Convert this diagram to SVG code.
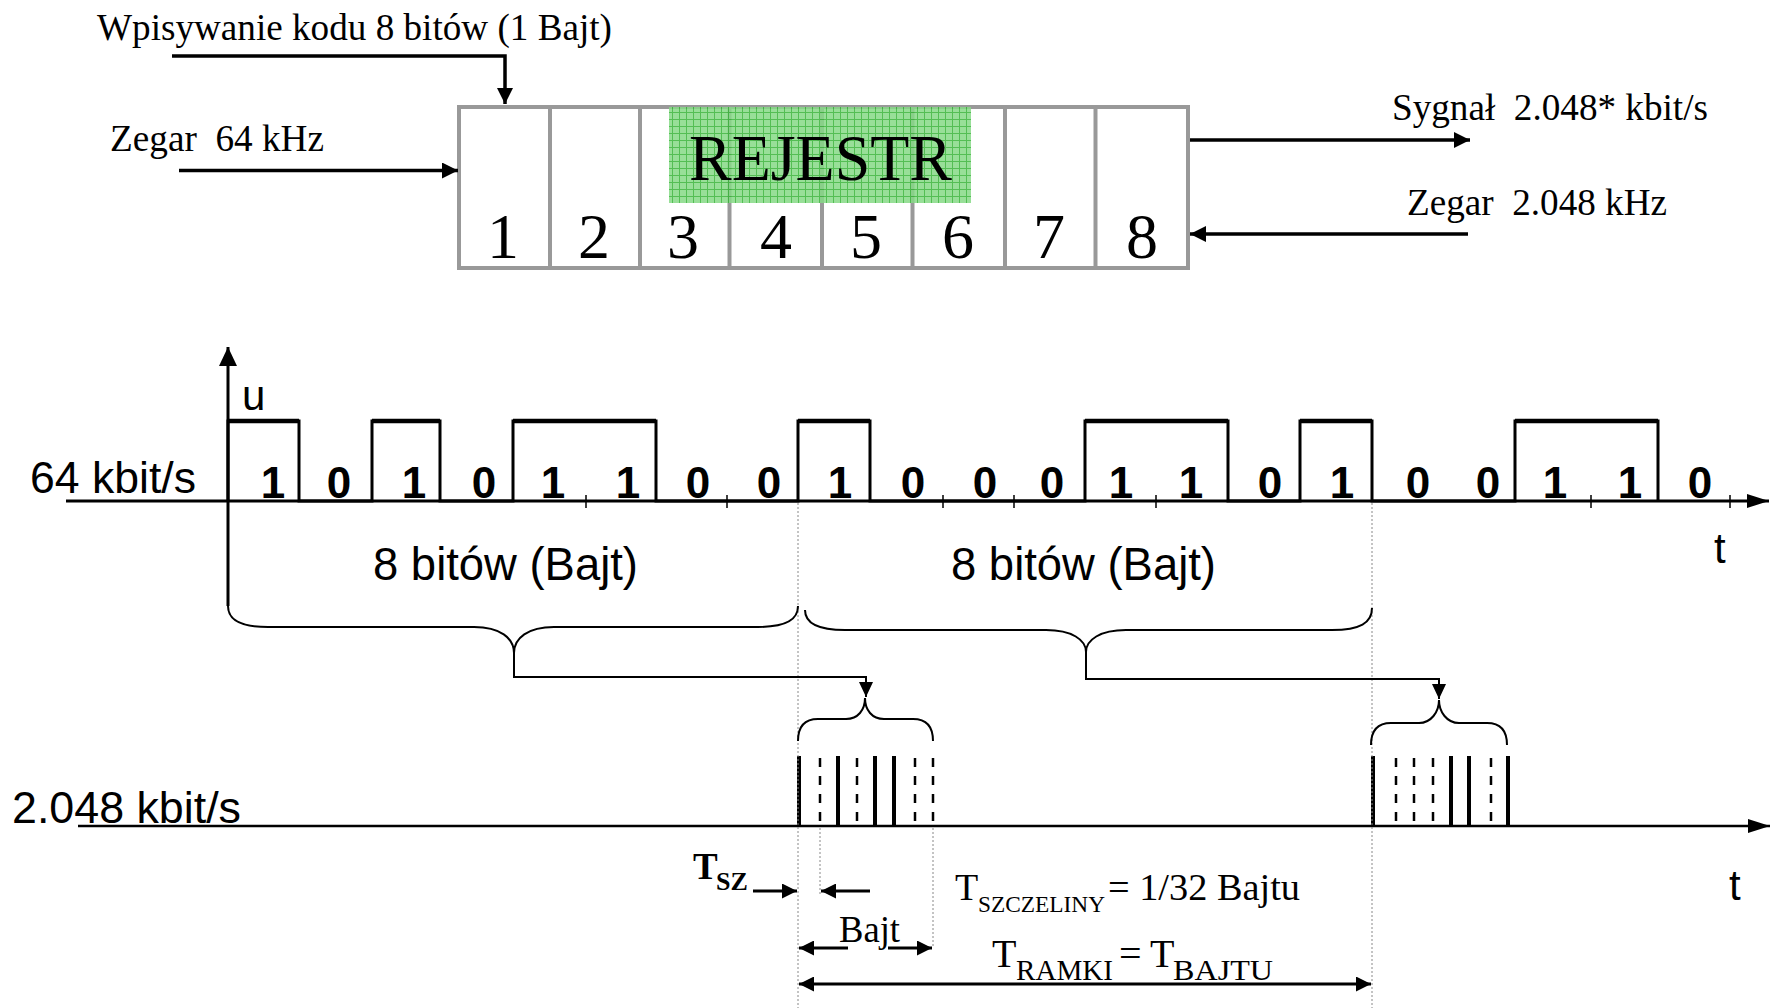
<svg xmlns="http://www.w3.org/2000/svg" width="1771" height="1008" viewBox="0 0 1771 1008">
<defs>
<style>
.serif{font-family:"Liberation Serif","Times New Roman",serif;fill:#000}
.sans{font-family:"Liberation Sans",Arial,sans-serif;fill:#000}
.pre{white-space:pre}
.bit{font-family:"Liberation Sans",Arial,sans-serif;font-weight:bold;font-size:44px;text-anchor:middle;fill:#000}
.ln{stroke:#000;fill:none}
.thin{stroke:#000;stroke-width:2;fill:none}
.dot{stroke:#888;stroke-width:1;stroke-dasharray:2 2;fill:none}
.solid{stroke:#000;stroke-width:4}
.dash{stroke:#000;stroke-width:2.5;stroke-dasharray:9 9}
.cell{stroke:#999;stroke-width:4}
</style>
<pattern id="grid" width="7" height="7" patternUnits="userSpaceOnUse">
<rect width="7" height="7" fill="#86d986"/>
<path d="M0,0.5H7M0.5,0V7" stroke="#36b336" stroke-width="1"/>
</pattern>
<marker id="ah" markerUnits="userSpaceOnUse" markerWidth="16" markerHeight="16" refX="16" refY="8" orient="auto"><path d="M0,0L16,8L0,16z" fill="#000"/></marker>
<marker id="ahs" markerUnits="userSpaceOnUse" markerWidth="15" markerHeight="14" refX="15" refY="7" orient="auto"><path d="M0,0L15,7L0,14z" fill="#000"/></marker>
<marker id="ahl" markerUnits="userSpaceOnUse" markerWidth="22" markerHeight="14" refX="22" refY="7" orient="auto"><path d="M0,0L22,7L0,14z" fill="#000"/></marker>
<marker id="ahu" markerUnits="userSpaceOnUse" markerWidth="19" markerHeight="18" refX="19" refY="9" orient="auto"><path d="M0,0L19,9L0,18z" fill="#000"/></marker>
<marker id="ahb" markerUnits="userSpaceOnUse" markerWidth="15" markerHeight="15" refX="15" refY="7.5" orient="auto-start-reverse"><path d="M0,0L15,7.5L0,15z" fill="#000"/></marker>
</defs>
<rect width="1771" height="1008" fill="#fff"/>

<g id="register">
<rect x="459" y="107" width="729" height="161" fill="#fff" stroke="#999" stroke-width="4"/>
<line class="cell" x1="550" y1="107" x2="550" y2="268"/>
<line class="cell" x1="640" y1="107" x2="640" y2="268"/>
<line class="cell" x1="729.5" y1="107" x2="729.5" y2="268"/>
<line class="cell" x1="822" y1="107" x2="822" y2="268"/>
<line class="cell" x1="912.5" y1="107" x2="912.5" y2="268"/>
<line class="cell" x1="1005" y1="107" x2="1005" y2="268"/>
<line class="cell" x1="1095.5" y1="107" x2="1095.5" y2="268"/>
<rect x="669" y="107" width="302" height="96" fill="url(#grid)" opacity="0.85"/>
<text class="serif" x="689" y="180" font-size="66" textLength="263" lengthAdjust="spacingAndGlyphs">REJESTR</text>
<g class="serif" font-size="64" text-anchor="middle">
<text x="503" y="258">1</text>
<text x="594" y="258">2</text>
<text x="683" y="258">3</text>
<text x="776" y="258">4</text>
<text x="866" y="258">5</text>
<text x="958" y="258">6</text>
<text x="1049" y="258">7</text>
<text x="1142" y="258">8</text>
</g>
</g>

<g id="top-labels" class="serif" font-size="38">
<text class="pre" x="97" y="40" textLength="515" lengthAdjust="spacingAndGlyphs">Wpisywanie kodu 8 bitów (1 Bajt)</text>
<text class="pre" x="110" y="151" textLength="214" lengthAdjust="spacingAndGlyphs">Zegar  64 kHz</text>
<text class="pre" x="1392" y="120" textLength="316" lengthAdjust="spacingAndGlyphs">Sygnał  2.048* kbit/s</text>
<text class="pre" x="1407" y="215" textLength="260" lengthAdjust="spacingAndGlyphs">Zegar  2.048 kHz</text>
</g>

<g id="signal-64k">
<text class="sans" x="30" y="493" font-size="45" textLength="166" lengthAdjust="spacingAndGlyphs">64 kbit/s</text>
<text class="sans" x="242" y="410" font-size="42">u</text>
<text class="sans" x="1714" y="563" font-size="42">t</text>
<path d="M228,501V421H299V501H372V421H440V501H513V421H656V501H798V421H870V501H1085V421H1228V501H1300V421H1372V501H1515V421H1658V501" class="ln" stroke-width="3"/>
<path d="M228,421H299M372,421H440M513,421H656M798,421H870M1085,421H1228M1300,421H1372M1515,421H1658" class="ln" stroke-width="4.5"/>
<path d="M586,495V508M727,495V508M943,495V508M1014,495V508M1156,495V508M1591,495V508M1730,495V508" class="ln" stroke-width="1.5"/>
<g class="bit">
<text x="273" y="498">1</text><text x="339" y="498">0</text><text x="414" y="498">1</text><text x="484" y="498">0</text>
<text x="553" y="498">1</text><text x="628" y="498">1</text><text x="698" y="498">0</text><text x="769" y="498">0</text>
<text x="840" y="498">1</text><text x="913" y="498">0</text><text x="985" y="498">0</text><text x="1052" y="498">0</text>
<text x="1121" y="498">1</text><text x="1191" y="498">1</text><text x="1270" y="498">0</text><text x="1342" y="498">1</text>
<text x="1418" y="498">0</text><text x="1488" y="498">0</text><text x="1555" y="498">1</text><text x="1630" y="498">1</text>
<text x="1700" y="498">0</text>
</g>
<text class="sans" x="373" y="580" font-size="46" textLength="265" lengthAdjust="spacingAndGlyphs">8 bitów (Bajt)</text>
<text class="sans" x="951" y="580" font-size="46" textLength="265" lengthAdjust="spacingAndGlyphs">8 bitów (Bajt)</text>
</g>

<g id="signal-2048">
<text class="sans" x="12" y="823" font-size="45" textLength="229" lengthAdjust="spacingAndGlyphs">2.048 kbit/s</text>
<text class="sans" x="1729" y="900" font-size="42">t</text>
<line class="solid" x1="799" y1="756" x2="799" y2="826"/>
<line class="dash" x1="820" y1="758" x2="820" y2="826"/>
<line class="solid" x1="838" y1="756" x2="838" y2="826"/>
<line class="dash" x1="857" y1="758" x2="857" y2="826"/>
<line class="solid" x1="875" y1="756" x2="875" y2="826"/>
<line class="solid" x1="894" y1="756" x2="894" y2="826"/>
<line class="dash" x1="915" y1="758" x2="915" y2="826"/>
<line class="dash" x1="933" y1="758" x2="933" y2="826"/>
<line class="solid" x1="1373" y1="756" x2="1373" y2="826"/>
<line class="dash" x1="1396" y1="758" x2="1396" y2="826"/>
<line class="dash" x1="1414" y1="758" x2="1414" y2="826"/>
<line class="dash" x1="1433" y1="758" x2="1433" y2="826"/>
<line class="solid" x1="1451" y1="756" x2="1451" y2="826"/>
<line class="solid" x1="1469" y1="756" x2="1469" y2="826"/>
<line class="dash" x1="1491" y1="758" x2="1491" y2="826"/>
<line class="solid" x1="1508" y1="756" x2="1508" y2="826"/>
</g>

<g id="annotations">
<text class="serif" x="693" y="879" font-size="37" font-weight="bold">T</text>
<text class="serif" x="716" y="890" font-size="26" font-weight="bold">SZ</text>
<text class="serif" x="955" y="900" font-size="38">T</text>
<text class="serif" x="978" y="912" font-size="23" textLength="127" lengthAdjust="spacingAndGlyphs">SZCZELINY</text>
<text class="serif pre" x="1108" y="900" font-size="38" textLength="192" lengthAdjust="spacingAndGlyphs">= 1/32 Bajtu</text>
<text class="serif" x="839" y="942" font-size="37" textLength="61" lengthAdjust="spacingAndGlyphs">Bajt</text>
<text class="serif" x="992" y="967" font-size="40">T</text>
<text class="serif" x="1016" y="980" font-size="29" textLength="97" lengthAdjust="spacingAndGlyphs">RAMKI</text>
<text class="serif" x="1119" y="967" font-size="40">=</text>
<text class="serif" x="1150" y="967" font-size="40">T</text>
<text class="serif" x="1173" y="980" font-size="30" textLength="100" lengthAdjust="spacingAndGlyphs">BAJTU</text>
</g>

<g id="connectors">
<path class="ln" stroke-width="3.5" d="M172,56H505V104" marker-end="url(#ah)"/>
<path class="ln" stroke-width="3.5" d="M179,170.5H458" marker-end="url(#ah)"/>
<path class="ln" stroke-width="3.5" d="M1190,140H1470" marker-end="url(#ah)"/>
<path class="ln" stroke-width="3.5" d="M1468,234H1190" marker-end="url(#ah)"/>
<path class="ln" stroke-width="3" d="M228,606V347" marker-end="url(#ahu)"/>
<path class="ln" stroke-width="3" d="M66,501H1769" marker-end="url(#ahl)"/>
<path class="ln" stroke-width="2.5" d="M78,826H1770" marker-end="url(#ahl)"/>
<path class="dot" d="M798,503V1008M1372,503V1008M820,828V895M933,828V948"/>
<path class="thin" d="M228,606C228,620 240,627 268,627H474C500,627 514,638 514,653C514,638 528,627 554,627H758C786,627 798,620 798,606"/>
<path class="thin" d="M514,653V677H866V697" marker-end="url(#ahs)"/>
<path class="thin" d="M805,610C805,623 817,630 845,630H1046C1072,630 1086,640 1086,652C1086,640 1100,630 1126,630H1332C1360,630 1372,623 1372,608"/>
<path class="thin" d="M1086,652V679H1439V699" marker-end="url(#ahs)"/>
<path class="thin" d="M798,741C798,727 804,719 818,719H846C858,719 865,710 865,698C865,710 872,719 884,719H913C927,719 933,727 933,741"/>
<path class="thin" d="M1371,745C1371,731 1377,723 1391,723H1419C1431,723 1439,712 1439,700C1439,712 1447,723 1459,723H1487C1501,723 1507,731 1507,745"/>
<path class="ln" stroke-width="3" d="M753,891H797" marker-end="url(#ahb)"/>
<path class="ln" stroke-width="3" d="M870,891H821" marker-end="url(#ahb)"/>
<path class="ln" stroke-width="3" d="M848,948H799" marker-end="url(#ahb)"/>
<path class="ln" stroke-width="3" d="M888,948H932" marker-end="url(#ahb)"/>
<path class="ln" stroke-width="3" d="M799,984H1371" marker-start="url(#ahb)" marker-end="url(#ahb)"/>
</g>
</svg>
